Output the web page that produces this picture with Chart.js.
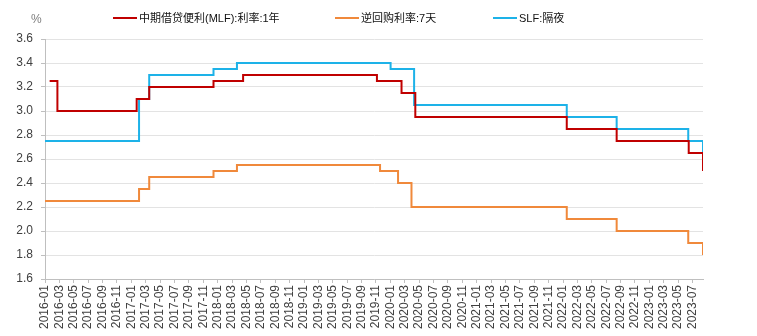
<!DOCTYPE html>
<html>
<head>
<meta charset="utf-8">
<script src="https://cdn.jsdelivr.net/npm/chart.js@4/dist/chart.umd.min.js"></script>
<style>
  html, body { margin: 0; padding: 0; background: #fff; }
  #wrap { position: relative; width: 757px; height: 336px; }
  #unit { position: absolute; left: 31px; top: 12px; font: 12px "Liberation Sans", Arial, sans-serif; color: #7f7f7f; }
  .lg { position: absolute; top: 9px; font: 11px "Liberation Sans", "Noto Sans CJK SC", sans-serif; color: #111; white-space: nowrap; }
  .lg i { display: inline-block; width: 24px; height: 2px; vertical-align: middle; margin-right: 2px; position: relative; top: -1px; }
</style>
</head>
<body>
<div id="wrap">
  <canvas id="chart"></canvas>
  <div id="unit">%</div>
  <div id="legend"></div>
</div>
<script>
// 政策利率走势：MLF 1年、逆回购 7天、SLF 隔夜（调整日 + 调整后利率）

const mlfDates = ['2016-01-21', '2016-02-22', '2017-01-24', '2017-03-16', '2017-12-14', '2018-04-17',
  '2019-11-05', '2020-02-17', '2020-04-15', '2022-01-17', '2022-08-15', '2023-06-15', '2023-08-15'];
const mlfRates = [3.25, 3.00, 3.10, 3.20, 3.25, 3.30, 3.25, 3.15, 2.95, 2.85, 2.75, 2.65, 2.50];

const repoDates = ['2016-01-01', '2017-02-03', '2017-03-16', '2017-12-14', '2018-03-22', '2019-11-18',
  '2020-02-03', '2020-03-30', '2022-01-17', '2022-08-15', '2023-06-13', '2023-08-15'];
const repoRates = [2.25, 2.35, 2.45, 2.50, 2.55, 2.50, 2.40, 2.20, 2.10, 2.00, 1.90, 1.80];

const slfDates = ['2016-01-01', '2017-02-03', '2017-03-16', '2017-12-14', '2018-03-22', '2020-01-02',
  '2020-04-10', '2022-01-17', '2022-08-15', '2023-06-13', '2023-08-15'];
const slfRates = [2.75, 3.10, 3.30, 3.35, 3.40, 3.35, 3.05, 2.95, 2.85, 2.75, 2.65];

const seriesNames = ['中期借贷便利(MLF):利率:1年', '逆回购利率:7天', 'SLF:隔夜'];
const seriesColors = ['#C00000', '#F0893B', '#1DB2E8'];

const monthTicks = ['2016-01', '2016-03', '2016-05', '2016-07', '2016-09', '2016-11',
  '2017-01', '2017-03', '2017-05', '2017-07', '2017-09', '2017-11',
  '2018-01', '2018-03', '2018-05', '2018-07', '2018-09', '2018-11',
  '2019-01', '2019-03', '2019-05', '2019-07', '2019-09', '2019-11',
  '2020-01', '2020-03', '2020-05', '2020-07', '2020-09', '2020-11',
  '2021-01', '2021-03', '2021-05', '2021-07', '2021-09', '2021-11',
  '2022-01', '2022-03', '2022-05', '2022-07', '2022-09', '2022-11',
  '2023-01', '2023-03', '2023-05', '2023-07'];
const yTicks = [1.6, 1.8, 2.0, 2.2, 2.4, 2.6, 2.8, 3.0, 3.2, 3.4, 3.6];

// months since 2016-01, fractional by day
function monthPos(s) {
  const [y, m, d] = s.split('-').map(Number);
  const dim = new Date(y, m, 0).getDate();
  return (y - 2016) * 12 + (m - 1) + ((d || 1) - 1) / dim;
}

function toPoints(dates, rates) {
  return dates.map((d, i) => ({ x: monthPos(d), y: rates[i] }));
}

const xMax = monthPos('2023-08-15');
const FONT = '"Liberation Sans", Arial, sans-serif';

// legend
const legendX = [113, 335, 493];
const legend = document.getElementById('legend');
seriesNames.forEach((name, i) => {
  const el = document.createElement('div');
  el.className = 'lg';
  el.style.left = legendX[i] + 'px';
  el.innerHTML = `<i style="background:${seriesColors[i]}"></i>${name}`;
  legend.appendChild(el);
});

const datasets = [
  toPoints(mlfDates, mlfRates),
  toPoints(repoDates, repoRates),
  toPoints(slfDates, slfRates),
].map((pts, i) => ({
  label: seriesNames[i],
  data: pts,
  borderColor: seriesColors[i],
  backgroundColor: seriesColors[i],
  borderWidth: 2,
  pointRadius: 0,
  stepped: 'before',
  fill: false,
}));

new Chart(document.getElementById('chart'), {
  type: 'line',
  data: { datasets },
  options: {
    responsive: true,
    maintainAspectRatio: false,
    animation: false,
    layout: { padding: { top: 39, right: 54, left: 0, bottom: 0 } },
    plugins: { legend: { display: false }, tooltip: { enabled: false } },
    scales: {
      x: {
        type: 'linear',
        min: 0,
        max: xMax,
        afterBuildTicks: (scale) => {
          scale.ticks = monthTicks.map(t => ({ value: monthPos(t + '-01') }));
        },
        afterFit: (scale) => { scale.height = 57; },
        ticks: {
          autoSkip: false,
          minRotation: 90,
          maxRotation: 90,
          padding: 2,
          color: '#404040',
          font: { family: FONT, size: 12 },
          callback: (v, i) => monthTicks[i],
        },
        grid: { drawOnChartArea: false, tickLength: 4, color: '#bfbfbf' },
        border: { color: '#bfbfbf' },
      },
      y: {
        min: 1.6,
        max: 3.6,
        afterBuildTicks: (scale) => {
          scale.ticks = yTicks.map(v => ({ value: v }));
        },
        afterFit: (scale) => { scale.width = 45; },
        ticks: {
          padding: 8,
          color: '#404040',
          font: { family: FONT, size: 12 },
          callback: (v) => Number(v).toFixed(1),
        },
        grid: { color: '#e3e3e3', tickColor: '#bfbfbf', tickLength: 4 },
        border: { color: '#bfbfbf' },
      },
    },
  },
});
</script>
</body>
</html>
